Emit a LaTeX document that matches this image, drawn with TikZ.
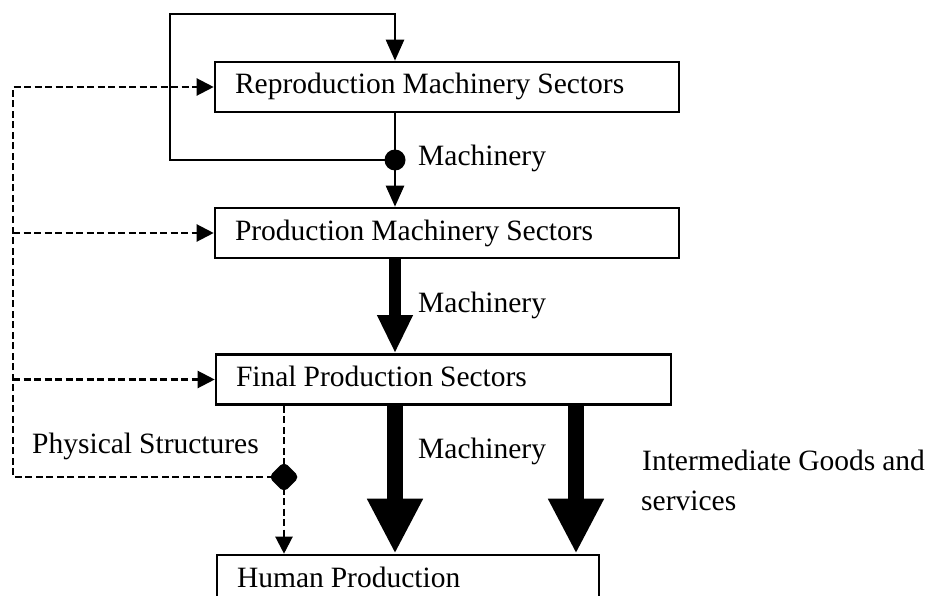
\documentclass[tikz,border=0pt]{standalone}
\usepackage{fontspec}
\setmainfont{Liberation Serif}[WordSpace=0.95]
\usetikzlibrary{arrows.meta,shapes.geometric}
% sector caption set flush left in a box of the given width
\newcommand{\sectortext}[2]{\makebox[#1][l]{#2}}
\begin{document}
\begin{tikzpicture}[x=1pt,y=-1pt,
  every node/.style={font=\fontsize{29.5}{34}\selectfont},
  sector/.style={draw,line width=2.6pt,rectangle,inner xsep=20pt,inner ysep=0pt,
    text height=20pt,text depth=6pt,minimum height=50pt},
  label/.style={anchor=base west,inner sep=0pt},
  flow/.style={line width=2.6pt,-{Triangle[width=18pt,length=21pt]}},
  link/.style={line width=2.6pt},
  dashlink/.style={line width=2.2pt,dash pattern=on 7pt off 3.5pt},
  dashflow/.style={dashlink,-{Triangle[width=17pt,length=17pt]}},
  bigflow/.style={line width=12pt,-{Triangle[width=33pt,length=38pt]}},
  hugeflow/.style={line width=16pt,-{Triangle[width=52pt,length=55pt]}},
  junction/.style={circle,fill,inner sep=0pt,minimum size=21pt},
  splitter/.style={diamond,fill,inner sep=0pt,minimum width=31pt,minimum height=31pt,rounded corners=5pt}
]
\useasboundingbox (0,0) rectangle (931,596);
\clip (0,0) rectangle (931,596);

% sector boxes
\node[sector] (rep) at (447,87)  {\sectortext{424pt}{Reproduction Machinery Sectors}};
\node[sector] (prod) at (447,233) {\sectortext{424pt}{Production Machinery Sectors}};
\node[sector] (fin) at (443.5,379.5) {\sectortext{415pt}{Final Production Sectors}};
\node[sector] (hum) at (408,580) {\sectortext{342pt}{Human Production}};

% junction points
\node[junction] (dot) at (395,160) {};
\node[splitter] (jn) at (284,477) {};

% machinery feedback loop on the reproduction sectors
\coordinate (loopSW) at (170,160);
\coordinate (loopNW) at (170,14);
\coordinate (loopNE) at (395,14);
\draw[flow] (dot.center) -- (loopSW) -- (loopNW) -- (loopNE) -- (rep.north -| loopNE);
\draw[link] (rep.south -| dot) -- (dot.center);
\draw[flow] (dot.center) -- (prod.north -| dot);

% physical structures feeding back to all sectors
\coordinate (dTop) at (13,87);
\coordinate (dBot) at (13,477);
\draw[dashflow] (jn.center) -- (dBot) -- (dTop) -- (rep.west);
\draw[dashflow] (prod.west -| dTop) -- (prod.west);
\draw[dashflow] (fin.west -| dTop) -- (fin.west);
\draw[dashlink] (fin.south -| jn) -- (jn.center);
\draw[dashflow] (jn.center) -- (hum.north -| jn);

% heavy flows
\coordinate (goods) at (576,0);
\draw[bigflow] (prod.south -| dot) -- (fin.north -| dot);
\draw[hugeflow] (fin.south -| dot) -- (hum.north -| dot);
\draw[hugeflow] (fin.south -| goods) -- (hum.north -| goods);

% labels
\node[label] (m1) at (418,166) {Machinery};
\node[label] (m2) at (418,312) {Machinery};
\node[label] (m3) at (418,458) {Machinery};
\node[label] (ps) at (32,453) {Physical Structures};
\node[label] (ig) at (642,470) {Intermediate Goods and};
\node[label] (sv) at (641,510) {services};
\end{tikzpicture}
\end{document}
